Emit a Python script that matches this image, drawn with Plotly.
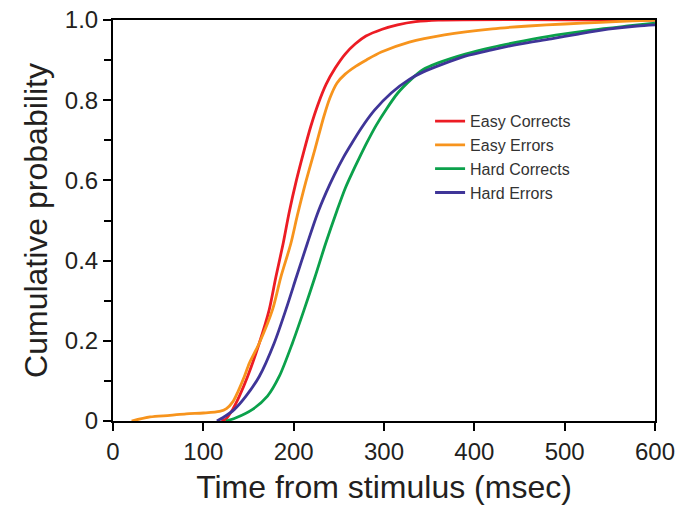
import plotly.graph_objects as go

# Time (ms) / cumulative probability readings for each condition
easy_correct_t = [120, 125, 132.5, 139.9, 149, 161.9, 172.9, 180.3, 188.3, 195, 203, 211, 219, 227,
                  236, 246, 257, 268, 280, 298, 315, 335, 360, 600]
easy_correct_p = [0, 0.005, 0.029, 0.062, 0.111, 0.194, 0.277, 0.359, 0.442, 0.52, 0.6, 0.67, 0.735,
                  0.79, 0.84, 0.88, 0.915, 0.94, 0.96, 0.977, 0.988, 0.996, 1.0, 1.0]

easy_error_t = [20.6, 41, 63, 81, 100, 118, 125.6, 133, 138.5, 145.4, 150.9, 161.9, 176.5, 185.8,
                196.8, 204, 213.3, 223.6, 233.5, 240, 248, 257, 269, 281, 297, 328, 367, 420, 460,
                500, 540, 575, 600]
easy_error_p = [0, 0.01, 0.014, 0.018, 0.02, 0.024, 0.031, 0.049, 0.074, 0.111, 0.144, 0.194, 0.277,
                0.359, 0.442, 0.512, 0.595, 0.678, 0.76, 0.805, 0.843, 0.865, 0.885, 0.901, 0.92,
                0.945, 0.963, 0.978, 0.985, 0.99, 0.994, 0.998, 1.0]

hard_correct_t = [125, 136.2, 154.5, 171, 184, 198.6, 211.5, 223.6, 235.3, 248, 257, 265, 272, 281,
                  291, 302.4, 315.3, 330, 343, 360, 390, 420, 455, 490, 530, 570, 600]
hard_correct_p = [0, 0.008, 0.029, 0.062, 0.111, 0.194, 0.277, 0.359, 0.442, 0.525, 0.58, 0.62,
                  0.653, 0.694, 0.736, 0.777, 0.818, 0.852, 0.876, 0.893, 0.915, 0.932, 0.948,
                  0.962, 0.975, 0.985, 0.992]

hard_error_t = [115, 121.5, 134.4, 147.2, 161.9, 178.4, 191.3, 203, 215, 226, 236, 245.3, 254.5,
                263.7, 274.8, 289.5, 308, 328, 343, 365, 390, 418, 450, 485, 515, 548, 580, 600]
hard_error_p = [0, 0.008, 0.029, 0.062, 0.111, 0.194, 0.277, 0.359, 0.442, 0.515, 0.57, 0.615,
                0.655, 0.69, 0.73, 0.775, 0.818, 0.852, 0.87, 0.89, 0.91, 0.925, 0.94, 0.953,
                0.965, 0.977, 0.985, 0.988]

series_names = ["Easy Corrects", "Easy Errors", "Hard Corrects", "Hard Errors"]
series_colors = ["#ec1c24", "#f7941d", "#0ba14b", "#3f3598"]

x_ticks = [0, 100, 200, 300, 400, 500, 600]
y_ticks = [0, 0.2, 0.4, 0.6, 0.8, 1.0]
y_tick_labels = ["0", "0.2", "0.4", "0.6", "0.8", "1.0"]

data = [
    (easy_correct_t, easy_correct_p),
    (easy_error_t, easy_error_p),
    (hard_correct_t, hard_correct_p),
    (hard_error_t, hard_error_p),
]

fig = go.Figure()
for (t, p), name, color in zip(data, series_names, series_colors):
    fig.add_trace(go.Scatter(
        x=t, y=p, mode="lines", name=name,
        line=dict(color=color, width=2.8, shape="spline", smoothing=0.8),
    ))

font_family = "Liberation Sans, Arial, sans-serif"
text_color = "#231f20"

fig.update_layout(
    width=682, height=508,
    margin=dict(l=113, r=27, t=20, b=87),
    paper_bgcolor="white", plot_bgcolor="white",
    font=dict(family=font_family, color=text_color),
    showlegend=True,
    legend=dict(
        x=0.585, y=0.79, xanchor="left", yanchor="top",
        bgcolor="rgba(0,0,0,0)", font=dict(size=16, color="#333"),
        itemwidth=30, tracegroupgap=0,
    ),
)

fig.update_xaxes(
    range=[0, 600], tickvals=x_ticks, ticks="outside", ticklen=8, tickwidth=2,
    tickcolor="black", showline=True, linecolor="black", linewidth=2, mirror=True,
    showgrid=False, zeroline=False, tickfont=dict(size=24, color=text_color), automargin=False,
    title=dict(text="Time from stimulus (msec)", font=dict(size=32, color=text_color), standoff=12),
)
fig.update_yaxes(
    range=[0, 1.0], tickvals=y_ticks, ticktext=y_tick_labels, ticks="outside", ticklen=8,
    tickwidth=2, tickcolor="black", showline=True, linecolor="black", linewidth=2, mirror=True,
    showgrid=False, zeroline=False, tickfont=dict(size=24, color=text_color), automargin=False,
    minor=dict(dtick=0.1, ticks="outside", ticklen=7, tickwidth=2, tickcolor="black", showgrid=False),
    title=dict(text="Cumulative probability", font=dict(size=32, color=text_color), standoff=8),
)

fig.write_html("out.html")
